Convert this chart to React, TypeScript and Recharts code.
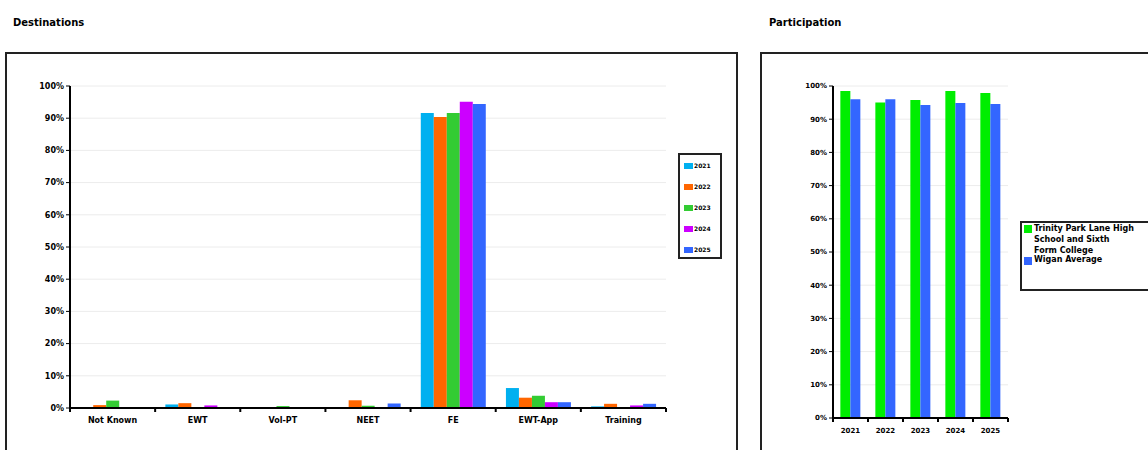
import { Bar, BarChart, CartesianGrid, XAxis, YAxis } from "recharts";

const destCategories = ["Not Known", "EWT", "Vol-PT", "NEET", "FE", "EWT-App", "Training"];
const destYears = ["2021", "2022", "2023", "2024", "2025"];
const dest2021 = [0, 1.1, 0, 0.2, 91.6, 6.2, 0.5];
const dest2022 = [0.9, 1.5, 0, 2.4, 90.4, 3.2, 1.3];
const dest2023 = [2.3, 0.1, 0.6, 0.7, 91.6, 3.8, 0.1];
const dest2024 = [0.2, 0.8, 0, 0.2, 95.1, 1.8, 0.8];
const dest2025 = [0, 0.3, 0, 1.4, 94.4, 1.8, 1.3];
const destColors = ["#00b0f0", "#ff6600", "#33cc33", "#cc00ff", "#3366ff"];

const partYears = ["2021", "2022", "2023", "2024", "2025"];
const partSchool = [98.5, 95.0, 95.8, 98.5, 97.9];
const partAverage = [96.0, 96.0, 94.3, 94.9, 94.6];
const partNames = ["Trinity Park Lane High School and Sixth Form College", "Wigan Average"];
const partColors = ["#00ee00", "#3366ff"];

const percentTicks = [0, 10, 20, 30, 40, 50, 60, 70, 80, 90, 100];

const FONT = "'DejaVu Sans', Verdana, sans-serif";

const destData = destCategories.map((name, i) => ({
  name,
  y2021: dest2021[i],
  y2022: dest2022[i],
  y2023: dest2023[i],
  y2024: dest2024[i],
  y2025: dest2025[i],
}));

const partData = partYears.map((name, i) => ({
  name,
  school: partSchool[i],
  average: partAverage[i],
}));

// Excel-style category axis: tick marks sit between categories, not under them
function BoundaryTick(props: any) {
  const { x, y, payload, index, visibleTicksCount, half, fontSize = 8 } = props;
  const h = payload?.offset || half;
  const last = index === visibleTicksCount - 1;
  return (
    <g>
      <line x1={x - h} x2={x - h} y1={y} y2={y + 4} stroke="#000" strokeWidth={2} />
      {last && <line x1={x + h} x2={x + h} y1={y} y2={y + 4} stroke="#000" strokeWidth={2} />}
      <text x={x} y={y + 15} textAnchor="middle" fontSize={fontSize} fontFamily={FONT} fontWeight="bold" fill="#000">
        {payload.value}
      </text>
    </g>
  );
}

function DestLegend() {
  return (
    <div
      style={{
        position: "absolute",
        left: 678,
        top: 153,
        border: "2px solid #222",
        width: 40,
        height: 102,
        background: "#fff",
      }}
    >
      {destYears.map((yr, i) => (
        <div key={yr} style={{ display: "flex", alignItems: "center", height: 21, paddingLeft: 4 }}>
          <span style={{ width: 9, height: 6, background: destColors[i], display: "inline-block" }} />
          <span style={{ fontSize: 6, fontFamily: FONT, fontWeight: "bold", marginLeft: 1 }}>{yr}</span>
        </div>
      ))}
    </div>
  );
}

function PartLegend() {
  return (
    <div
      style={{
        position: "absolute",
        left: 1020,
        top: 221,
        border: "2px solid #222",
        width: 140,
        height: 66,
        background: "#fff",
      }}
    >
      <span style={{ position: "absolute", left: 2, top: 2, width: 8, height: 8, background: partColors[0] }} />
      <div
        style={{
          position: "absolute",
          left: 12,
          top: 0,
          width: 100,
          fontSize: 8,
          lineHeight: "11px",
          fontFamily: FONT,
          fontWeight: "bold",
        }}
      >
        {partNames[0]}
      </div>
      <span style={{ position: "absolute", left: 2, top: 34, width: 8, height: 8, background: partColors[1] }} />
      <div
        style={{
          position: "absolute",
          left: 12,
          top: 31,
          fontSize: 8,
          lineHeight: "11px",
          fontFamily: FONT,
          fontWeight: "bold",
        }}
      >
        {partNames[1]}
      </div>
    </div>
  );
}

const yTick = { fontSize: 8, fontFamily: FONT, fontWeight: "bold", fill: "#000" } as const;

export default function App() {
  return (
    <div style={{ position: "absolute", left: 0, top: 0, width: 1148, height: 450, overflow: "hidden", background: "#fff" }}>
      <div style={{ position: "absolute", left: 13, top: 17, fontSize: 10, fontFamily: FONT, fontWeight: "bold" }}>
        Destinations
      </div>
      <div style={{ position: "absolute", left: 769, top: 17, fontSize: 10, fontFamily: FONT, fontWeight: "bold" }}>
        Participation
      </div>

      <div style={{ position: "absolute", left: 5, top: 52, width: 729, height: 420, border: "2px solid #222" }} />
      <div style={{ position: "absolute", left: 760, top: 52, width: 420, height: 420, border: "2px solid #222" }} />

      <div style={{ position: "absolute", left: 5, top: 52 }}>
        <BarChart
          width={733}
          height={398}
          data={destData}
          margin={{ top: 34, right: 72, bottom: 12, left: 0 }}
          barCategoryGap="12%"
          barGap={0}
        >
          <CartesianGrid vertical={false} stroke="#ececec" />
          <XAxis
            dataKey="name"
            axisLine={{ stroke: "#000", strokeWidth: 2 }}
            tickLine={false}
            tickSize={0}
            tickMargin={0}
            height={30}
            interval={0}
            tick={<BoundaryTick half={42.6} />}
          />
          <XAxis xAxisId="top" orientation="top" dataKey="name" tick={false} tickLine={false} height={0} axisLine={{ stroke: "#999", strokeWidth: 2 }} />
          <YAxis
            domain={[0, 100]}
            ticks={percentTicks}
            tickFormatter={(v) => `${v}%`}
            width={65}
            tick={yTick}
            tickSize={4}
            tickLine={{ stroke: "#000", strokeWidth: 1 }}
            axisLine={{ stroke: "#000", strokeWidth: 2 }}
          />
          <YAxis yAxisId="right" orientation="right" width={0} tick={false} tickLine={false} axisLine={{ stroke: "#999", strokeWidth: 2 }} />
          {destYears.map((yr, i) => (
            <Bar key={yr} dataKey={`y${yr}`} name={yr} fill={destColors[i]} isAnimationActive={false} />
          ))}
        </BarChart>
      </div>

      <div style={{ position: "absolute", left: 760, top: 52 }}>
        <BarChart
          width={388}
          height={398}
          data={partData}
          margin={{ top: 34, right: 140, bottom: 12, left: 0 }}
          barCategoryGap="21%"
          barGap={0}
        >
          <CartesianGrid vertical={false} stroke="#ececec" />
          <XAxis
            dataKey="name"
            axisLine={{ stroke: "#000", strokeWidth: 2 }}
            tickLine={false}
            tickSize={0}
            tickMargin={0}
            height={20}
            interval={0}
            tick={<BoundaryTick half={17.5} fontSize={7} />}
          />
          <XAxis xAxisId="top" orientation="top" dataKey="name" tick={false} tickLine={false} height={0} axisLine={{ stroke: "#999", strokeWidth: 2 }} />
          <YAxis
            domain={[0, 100]}
            ticks={percentTicks}
            tickFormatter={(v) => `${v}%`}
            width={73}
            tick={{ ...yTick, fontSize: 7 }}
            tickSize={4}
            tickLine={{ stroke: "#000", strokeWidth: 1 }}
            axisLine={{ stroke: "#000", strokeWidth: 2 }}
          />
          <YAxis yAxisId="right" orientation="right" width={0} tick={false} tickLine={false} axisLine={{ stroke: "#999", strokeWidth: 2 }} />
          <Bar dataKey="school" name={partNames[0]} fill={partColors[0]} isAnimationActive={false} />
          <Bar dataKey="average" name={partNames[1]} fill={partColors[1]} isAnimationActive={false} />
        </BarChart>
      </div>

      <DestLegend />
      <PartLegend />
    </div>
  );
}
